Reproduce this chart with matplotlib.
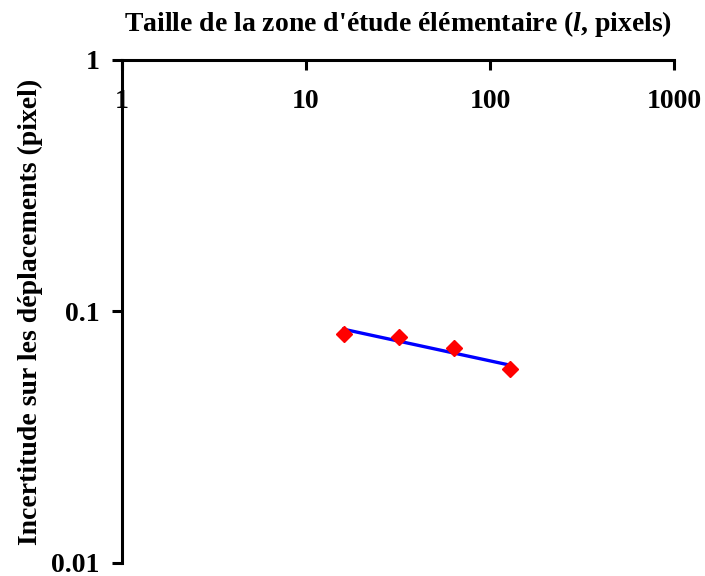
import matplotlib
matplotlib.use("Agg")
import matplotlib.pyplot as plt

plt.rcParams.update({
    "font.family": ["Liberation Serif", "DejaVu Serif"],
    "font.weight": "bold",
    "mathtext.fontset": "custom",
    "mathtext.rm": "Liberation Serif:bold",
    "mathtext.bfit": "Liberation Serif:italic:bold",
    "mathtext.it": "Liberation Serif:italic:bold",
})

# measured points: element size (pixels) vs displacement uncertainty (pixel)
size_px = [16, 32, 64, 128]
uncertainty = [0.0817, 0.0788, 0.0719, 0.0588]
# power-law trend line end points
fit_x = [16, 128]
fit_y = [0.0850, 0.0612]

x_ticks = [1, 10, 100, 1000]
x_labels = ["1", "10", "100", "1000"]
y_ticks = [0.01, 0.1, 1]
y_labels = ["0.01", "0.1", "1"]

fig = plt.figure(figsize=(7.05, 5.76), dpi=100)
ax = fig.add_axes([0.173, 0.0226, 0.783, 0.8733])

ax.plot(fit_x, fit_y, color="#0000FF", lw=2.4, zorder=2)
ax.plot(size_px, uncertainty, ls="none", marker="D", ms=8, color="#FF0000",
        mec="#FF0000", zorder=3)

ax.set_xscale("log")
ax.set_yscale("log")
ax.set_xlim(1, 1000)
ax.set_ylim(0.01, 1)
ax.minorticks_off()
ax.set_xticks(x_ticks, x_labels)
ax.set_yticks(y_ticks, y_labels)

for side in ("right", "bottom"):
    ax.spines[side].set_visible(False)
for side in ("left", "top"):
    ax.spines[side].set_linewidth(2.2)

ax.xaxis.set_ticks_position("top")
ax.xaxis.set_label_position("top")
ax.tick_params(axis="x", direction="in", length=7, width=2.2, pad=-39,
               labelsize=20)
ax.tick_params(axis="y", direction="out", length=7, width=2.2, pad=9,
               labelsize=20)

ax.set_xlabel(r"Taille de la zone d'étude élémentaire ($\mathbfit{l}$, pixels)",
              fontsize=20, fontweight="bold", labelpad=21)
ax.set_ylabel("Incertitude sur les déplacements (pixel)", fontsize=20,
              fontweight="bold", labelpad=6)

fig.savefig("out.png", dpi=100)
